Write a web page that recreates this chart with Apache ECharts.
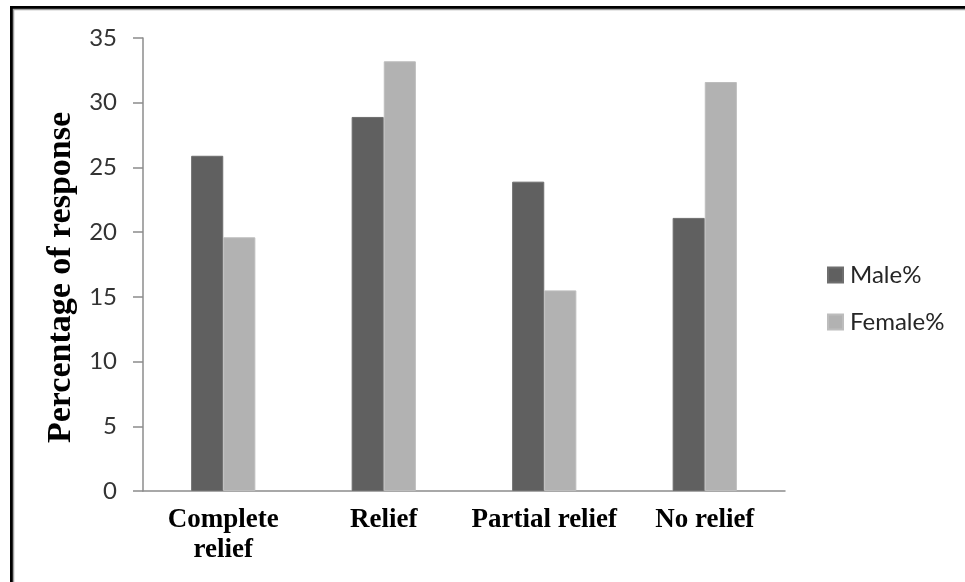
<!DOCTYPE html>
<html>
<head>
<meta charset="utf-8">
<script src="https://cdn.jsdelivr.net/npm/echarts@6/dist/echarts.min.js"></script>
<style>
  html, body { margin: 0; padding: 0; background: #fff; }
  #chart { width: 965px; height: 582px; }
</style>
</head>
<body>
<div id="chart"></div>
<script>
// Response to treatment by sex
const categories = ['Complete\nrelief', 'Relief', 'Partial relief', 'No relief'];
const maleValues = [25.9, 28.9, 23.9, 21.1];
const femaleValues = [19.6, 33.2, 15.5, 31.6];
const seriesNames = ['Male%', 'Female%'];
const yTicks = { min: 0, max: 35, interval: 5 };

const chart = echarts.init(document.getElementById('chart'), null, { renderer: 'canvas' });

const option = {
  backgroundColor: '#ffffff',
  animation: false,
  grid: { left: 143, right: 180, top: 38, bottom: 91, containLabel: false },
  legend: {
    orient: 'vertical',
    left: 827,
    top: 263,
    padding: 0,
    itemWidth: 15,
    itemHeight: 15,
    itemGap: 23,
    icon: 'rect',
    textStyle: { fontFamily: 'Lato', fontSize: 24, lineHeight: 24, color: '#262626', padding: [0, 0, 0, 2] },
    data: seriesNames
  },
  xAxis: {
    type: 'category',
    data: categories,
    axisLine: { lineStyle: { color: '#8c8c8c', width: 1.5 } },
    axisTick: { show: false },
    axisLabel: {
      interval: 0,
      margin: 14,
      verticalAlign: 'top',
      lineHeight: 30,
      fontFamily: 'Liberation Serif',
      fontWeight: 'bold',
      fontSize: 27,
      color: '#000'
    }
  },
  yAxis: {
    type: 'value',
    min: yTicks.min,
    max: yTicks.max,
    interval: yTicks.interval,
    name: 'Percentage of response',
    nameLocation: 'middle',
    nameGap: 56,
    nameTextStyle: {
      fontFamily: 'Liberation Serif',
      fontWeight: 'bold',
      fontSize: 34,
      color: '#000',
      padding: [0, 26, 0, 0]
    },
    splitLine: { show: false },
    axisLine: { show: true, lineStyle: { color: '#8c8c8c', width: 1.5 } },
    axisTick: { show: true, length: 10, lineStyle: { color: '#8c8c8c', width: 1.5 } },
    axisLabel: { margin: 26, fontFamily: 'Lato', fontSize: 24, color: '#333333' }
  },
  series: [
    {
      name: seriesNames[0],
      type: 'bar',
      data: maleValues,
      barGap: '0%',
      barCategoryGap: '60%',
      itemStyle: { color: '#606060', borderColor: '#6e6e6e', borderWidth: 1 }
    },
    {
      name: seriesNames[1],
      type: 'bar',
      data: femaleValues,
      itemStyle: { color: '#b2b2b2', borderColor: '#bdbdbd', borderWidth: 1 }
    }
  ],
  graphic: [
    {
      type: 'polyline',
      silent: true,
      shape: { points: [[11.5, 582], [11.5, 7.5], [965, 7.5]] },
      style: { stroke: '#000', lineWidth: 3, fill: null }
    },
    {
      type: 'polyline',
      silent: true,
      shape: { points: [[13.5, 582], [13.5, 9.5], [965, 9.5]] },
      style: { stroke: '#a0a0a0', lineWidth: 1.5, fill: null }
    }
  ]
};

chart.setOption(option);
</script>
</body>
</html>
